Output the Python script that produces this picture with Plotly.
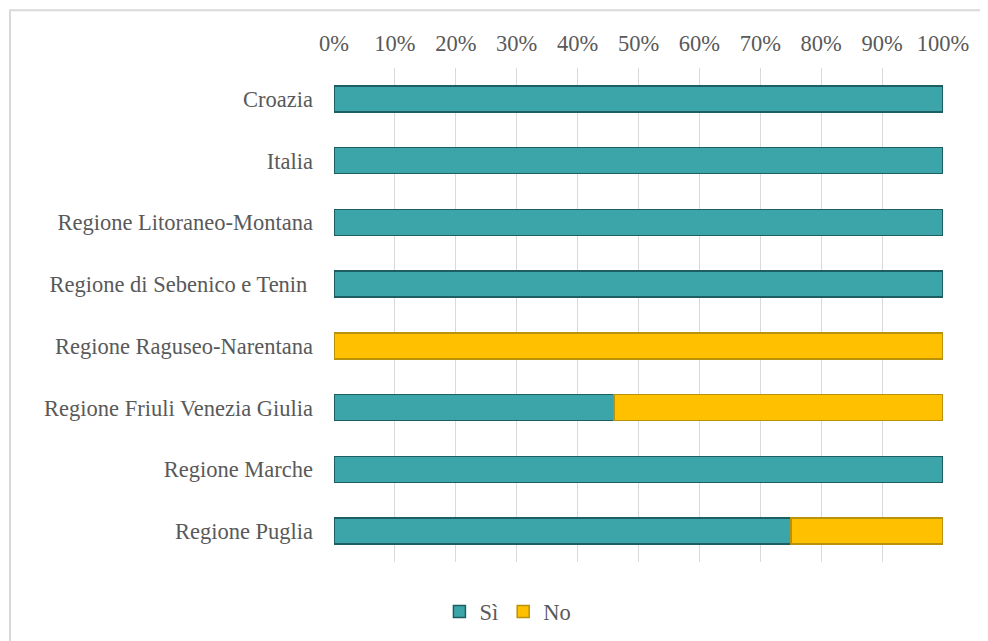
import plotly.graph_objects as go

categories = ["Croazia", "Italia", "Regione Litoraneo-Montana", "Regione di Sebenico e Tenin ",
              "Regione Raguseo-Narentana", "Regione Friuli Venezia Giulia", "Regione Marche", "Regione Puglia"]
si_values = [100, 100, 100, 100, 0, 46, 100, 75]
no_values = [0, 0, 0, 0, 100, 54, 0, 25]
tick_vals = [0, 10, 20, 30, 40, 50, 60, 70, 80, 90, 100]
tick_text = [f"{v}%" for v in tick_vals]


def hide_zero(values):
    return [v if v else None for v in values]


fig = go.Figure()
fig.add_trace(go.Bar(y=categories, x=hide_zero(si_values), name="Sì", orientation="h",
                     marker=dict(color="#3BA5AA", line=dict(color="#1D5E62", width=1.5))))
fig.add_trace(go.Bar(y=categories, x=hide_zero(no_values), name="No", orientation="h",
                     marker=dict(color="#FFC000", line=dict(color="#B8920A", width=1.5))))

font_family = "Liberation Serif, Times New Roman, serif"
fs = 22.5
fig.update_layout(
    width=988, height=641,
    barmode="stack", bargap=0.58,
    plot_bgcolor="white", paper_bgcolor="white",
    margin=dict(l=326, r=53, t=60, b=87),
    font=dict(family=font_family, size=fs, color="#595959"),
    xaxis=dict(side="top", range=[0, 100], tickvals=tick_vals, ticktext=tick_text,
               showgrid=True, gridcolor="#D9D9D9", gridwidth=1, zeroline=False,
               showline=False, ticks="", ticklabelstandoff=12,
               tickfont=dict(size=fs, color="#595959")),
    yaxis=dict(autorange="reversed", showgrid=False, showline=False, ticks="",
               ticklabelstandoff=20, tickfont=dict(size=fs, color="#595959")),
    legend=dict(orientation="h", xref="container", yref="container", x=0.506, y=0.058,
                xanchor="center", yanchor="middle", font=dict(size=fs, color="#595959"),
                traceorder="normal", itemwidth=30),
    showlegend=True,
    shapes=[
        dict(type="rect", xref="paper", yref="paper", x0=-0.532, x1=1.2, y0=1.117, y1=-0.3,
             line=dict(color="#D9D9D9", width=2), fillcolor="rgba(0,0,0,0)", layer="below"),
    ],
)
fig.write_html("out.html")
